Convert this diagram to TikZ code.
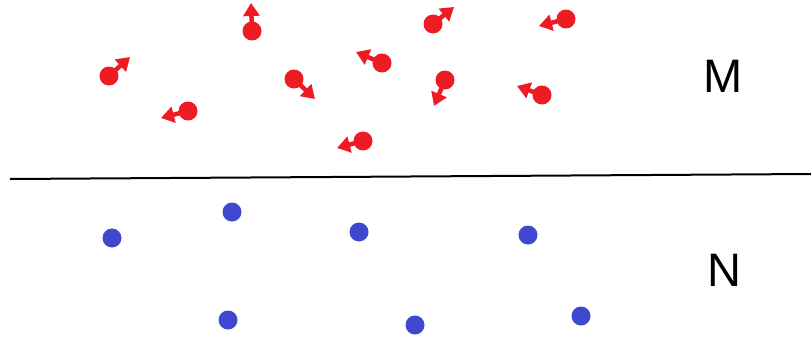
\documentclass[tikz,border=0pt]{standalone}
\usepackage{fontspec}
\setmainfont{Liberation Sans}
\usetikzlibrary{arrows.meta}
\definecolor{partred}{HTML}{ED1C24}
\definecolor{partblue}{HTML}{4048CF}
\begin{document}
\begin{tikzpicture}[x=1pt,y=-1pt,
  redpart/.style={circle,fill=partred,inner sep=0pt,minimum size=19pt},
  bluepart/.style={circle,fill=partblue,inner sep=0pt,minimum size=19pt},
  spin/.style={partred,line width=4.5pt,-{Triangle[length=13pt,width=16pt]}},
  region/.style={font=\fontsize{47}{50}\selectfont}]
  \useasboundingbox (0,0) rectangle (811,340);
  % region M: moving particles
  \node[redpart] (m1) at (109,76) {};
  \node[redpart] (m2) at (188,111) {};
  \node[redpart] (m3) at (252,31) {};
  \node[redpart] (m4) at (294,79) {};
  \node[redpart] (m5) at (363,141) {};
  \node[redpart] (m6) at (382,63) {};
  \node[redpart] (m7) at (433,24) {};
  \node[redpart] (m8) at (445,80) {};
  \node[redpart] (m9) at (542,95) {};
  \node[redpart] (m10) at (566,19) {};
  \draw[spin] (m1.center) -- (130,57);
  \draw[spin] (m2.center) -- (161,118);
  \draw[spin] (m3.center) -- (251,3);
  \draw[spin] (m4.center) -- (315,99);
  \draw[spin] (m5.center) -- (337,148);
  \draw[spin] (m6.center) -- (356,52);
  \draw[spin] (m7.center) -- (454,7);
  \draw[spin] (m8.center) -- (434,106);
  \draw[spin] (m9.center) -- (517,86);
  \draw[spin] (m10.center) -- (539,26);
  % boundary
  \draw[line width=2pt] (10,179) -- (811,174);
  % region N: particles at rest
  \node[bluepart] (n1) at (112,238) {};
  \node[bluepart] (n2) at (232,212) {};
  \node[bluepart] (n3) at (359,232) {};
  \node[bluepart] (n4) at (528,235) {};
  \node[bluepart] (n5) at (228,320) {};
  \node[bluepart] (n6) at (415,325) {};
  \node[bluepart] (n7) at (581,316) {};
  \node[region] (lm) at (723,76) {M};
  \node[region] (ln) at (724,270) {N};
\end{tikzpicture}
\end{document}
